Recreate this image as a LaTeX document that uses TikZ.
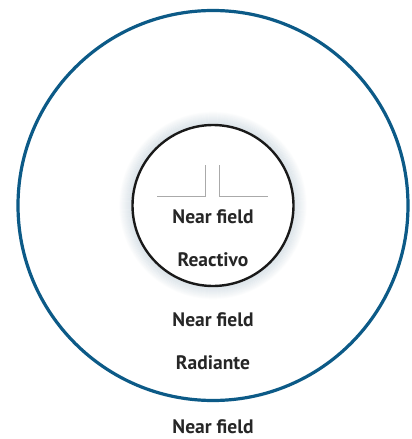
\documentclass[tikz,border=0pt]{standalone}
\usepackage{fontspec}
\setmainfont{PT Sans}
\usepackage{tikz}
\definecolor{zoneblue}{RGB}{12, 90, 135}
\definecolor{glow}{RGB}{180, 198, 210}
\definecolor{antenna}{RGB}{170, 170, 170}
\usetikzlibrary{positioning}

\begin{document}
\begin{tikzpicture}[x=1pt, y=-1pt,
    zone/.style={font=\fontsize{19.5}{22}\selectfont\bfseries, text=black!85, inner sep=0pt}
]
    \useasboundingbox (0,0) rectangle (412,439);
    \fill[white] (0,0) rectangle (412,439);

    % Centre of both regions
    \coordinate (c) at (213,205.5);

    % Outer boundary (radiating near field)
    \draw[zoneblue, line width=3.2pt] (c) circle[radius=195];

    % Soft glow round the reactive region
    \foreach \i in {1,...,12}
        \draw[glow, line width=1.2pt, opacity={0.4*(1-\i/13)}] (c) circle[radius=81+\i];
    \fill[white] (c) circle[radius=81];
    \draw[black!90, line width=2.4pt] (c) circle[radius=80.5];

    % Dipole antenna
    \coordinate (feedL) at (205,165);
    \coordinate (feedR) at (219.5,165);
    \coordinate (baseL) at (205,196.5);
    \coordinate (baseR) at (219.5,196.5);
    \coordinate (armL) at (157,196.5);
    \coordinate (armR) at (268,196.5);
    \draw[antenna, line width=1pt] (feedL) -- (baseL) -- (armL);
    \draw[antenna, line width=1pt] (feedR) -- (baseR) -- (armR);

    % Labels
    \node[zone] (nfreact) at (213,217) {Near field};
    \node[zone] (react) at (213,260) {Reactivo};
    \node[zone] (nfrad) at (213,320) {Near field};
    \node[zone] (rad) at (213,363) {Radiante};
    \node[zone] (nffar) at (213,427) {Near field};
\end{tikzpicture}
\end{document}
